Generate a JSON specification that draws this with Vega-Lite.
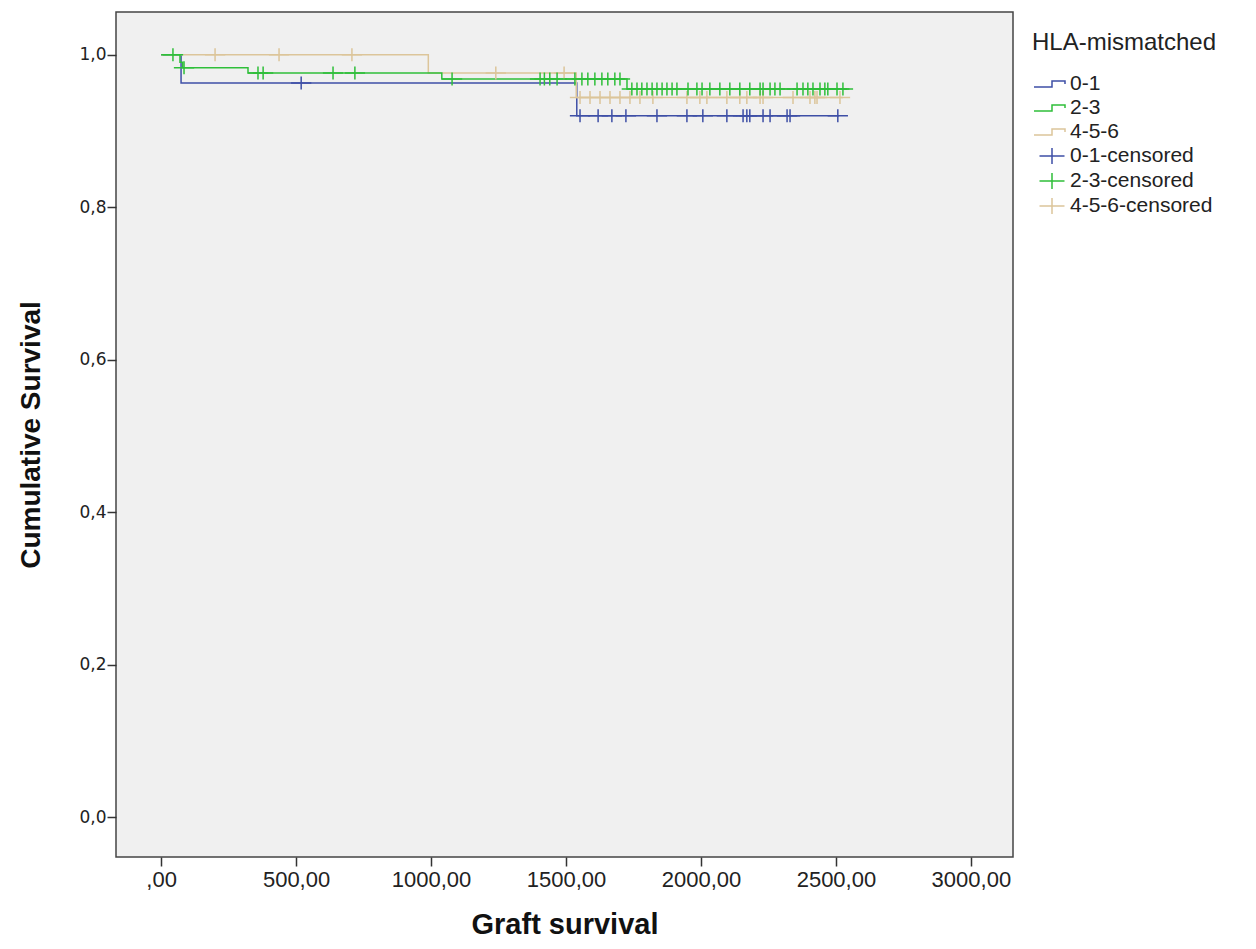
{
  "$schema": "https://vega.github.io/schema/vega-lite/v6.json",
  "width": 897,
  "height": 845,
  "autosize": {"type": "none"},
  "padding": {"left": 116, "top": 12, "right": 243, "bottom": 92},
  "background": "#ffffff",
  "config": {
    "view": {"fill": "#f0f0f0", "stroke": "#444444", "strokeWidth": 1.5},
    "font": "Liberation Sans",
    "axis": {
      "domain": false,
      "grid": false,
      "tickColor": "#333333",
      "tickWidth": 1.5,
      "tickSize": 9,
      "labelFont": "Liberation Sans",
      "labelColor": "#222222",
      "titleFont": "Liberation Sans",
      "titleFontWeight": "bold",
      "titleColor": "#111111"
    },
    "legend": {
      "titleFont": "Liberation Sans",
      "titleFontSize": 24,
      "titleFontWeight": "normal",
      "titleColor": "#222222",
      "titleLimit": 400,
      "labelFont": "Liberation Sans",
      "labelFontSize": 21,
      "labelColor": "#222222",
      "labelLimit": 400
    }
  },
  "datasets": {
    "curves": [
      {"t": 0, "s": 1.0, "grp": "0-1"},
      {"t": 74, "s": 0.963, "grp": "0-1"},
      {"t": 1540, "s": 0.92, "grp": "0-1"},
      {"t": 2512, "s": 0.92, "grp": "0-1"},
      {"t": 0, "s": 1.0, "grp": "4-5-6"},
      {"t": 990, "s": 0.976, "grp": "4-5-6"},
      {"t": 1538, "s": 0.944, "grp": "4-5-6"},
      {"t": 2526, "s": 0.944, "grp": "4-5-6"},
      {"t": 0, "s": 1.0, "grp": "2-3"},
      {"t": 70, "s": 0.99, "grp": "2-3"},
      {"t": 80, "s": 0.983, "grp": "2-3"},
      {"t": 322, "s": 0.976, "grp": "2-3"},
      {"t": 1040, "s": 0.968, "grp": "2-3"},
      {"t": 1726, "s": 0.955, "grp": "2-3"},
      {"t": 2550, "s": 0.955, "grp": "2-3"}
    ],
    "censored": [
      {"t": 519, "s": 0.963, "grp": "0-1-censored"},
      {"t": 1552, "s": 0.92, "grp": "0-1-censored"},
      {"t": 1619, "s": 0.92, "grp": "0-1-censored"},
      {"t": 1670, "s": 0.92, "grp": "0-1-censored"},
      {"t": 1722, "s": 0.92, "grp": "0-1-censored"},
      {"t": 1837, "s": 0.92, "grp": "0-1-censored"},
      {"t": 1948, "s": 0.92, "grp": "0-1-censored"},
      {"t": 2007, "s": 0.92, "grp": "0-1-censored"},
      {"t": 2096, "s": 0.92, "grp": "0-1-censored"},
      {"t": 2156, "s": 0.92, "grp": "0-1-censored"},
      {"t": 2170, "s": 0.92, "grp": "0-1-censored"},
      {"t": 2181, "s": 0.92, "grp": "0-1-censored"},
      {"t": 2230, "s": 0.92, "grp": "0-1-censored"},
      {"t": 2256, "s": 0.92, "grp": "0-1-censored"},
      {"t": 2319, "s": 0.92, "grp": "0-1-censored"},
      {"t": 2330, "s": 0.92, "grp": "0-1-censored"},
      {"t": 2507, "s": 0.92, "grp": "0-1-censored"},
      {"t": 200, "s": 1.0, "grp": "4-5-6-censored"},
      {"t": 437, "s": 1.0, "grp": "4-5-6-censored"},
      {"t": 707, "s": 1.0, "grp": "4-5-6-censored"},
      {"t": 1240, "s": 0.976, "grp": "4-5-6-censored"},
      {"t": 1493, "s": 0.976, "grp": "4-5-6-censored"},
      {"t": 1552, "s": 0.944, "grp": "4-5-6-censored"},
      {"t": 1589, "s": 0.944, "grp": "4-5-6-censored"},
      {"t": 1626, "s": 0.944, "grp": "4-5-6-censored"},
      {"t": 1663, "s": 0.944, "grp": "4-5-6-censored"},
      {"t": 1700, "s": 0.944, "grp": "4-5-6-censored"},
      {"t": 1737, "s": 0.944, "grp": "4-5-6-censored"},
      {"t": 1774, "s": 0.944, "grp": "4-5-6-censored"},
      {"t": 1822, "s": 0.944, "grp": "4-5-6-censored"},
      {"t": 1948, "s": 0.944, "grp": "4-5-6-censored"},
      {"t": 1996, "s": 0.944, "grp": "4-5-6-censored"},
      {"t": 2022, "s": 0.944, "grp": "4-5-6-censored"},
      {"t": 2096, "s": 0.944, "grp": "4-5-6-censored"},
      {"t": 2144, "s": 0.944, "grp": "4-5-6-censored"},
      {"t": 2170, "s": 0.944, "grp": "4-5-6-censored"},
      {"t": 2219, "s": 0.944, "grp": "4-5-6-censored"},
      {"t": 2230, "s": 0.944, "grp": "4-5-6-censored"},
      {"t": 2341, "s": 0.944, "grp": "4-5-6-censored"},
      {"t": 2404, "s": 0.944, "grp": "4-5-6-censored"},
      {"t": 2422, "s": 0.944, "grp": "4-5-6-censored"},
      {"t": 2430, "s": 0.944, "grp": "4-5-6-censored"},
      {"t": 2515, "s": 0.944, "grp": "4-5-6-censored"},
      {"t": 44, "s": 1.0, "grp": "2-3-censored"},
      {"t": 85, "s": 0.983, "grp": "2-3-censored"},
      {"t": 359, "s": 0.976, "grp": "2-3-censored"},
      {"t": 378, "s": 0.976, "grp": "2-3-censored"},
      {"t": 637, "s": 0.976, "grp": "2-3-censored"},
      {"t": 718, "s": 0.976, "grp": "2-3-censored"},
      {"t": 1078, "s": 0.968, "grp": "2-3-censored"},
      {"t": 1404, "s": 0.968, "grp": "2-3-censored"},
      {"t": 1420, "s": 0.968, "grp": "2-3-censored"},
      {"t": 1440, "s": 0.968, "grp": "2-3-censored"},
      {"t": 1467, "s": 0.968, "grp": "2-3-censored"},
      {"t": 1533, "s": 0.968, "grp": "2-3-censored"},
      {"t": 1559, "s": 0.968, "grp": "2-3-censored"},
      {"t": 1581, "s": 0.968, "grp": "2-3-censored"},
      {"t": 1607, "s": 0.968, "grp": "2-3-censored"},
      {"t": 1633, "s": 0.968, "grp": "2-3-censored"},
      {"t": 1655, "s": 0.968, "grp": "2-3-censored"},
      {"t": 1681, "s": 0.968, "grp": "2-3-censored"},
      {"t": 1700, "s": 0.968, "grp": "2-3-censored"},
      {"t": 1744, "s": 0.955, "grp": "2-3-censored"},
      {"t": 1763, "s": 0.955, "grp": "2-3-censored"},
      {"t": 1781, "s": 0.955, "grp": "2-3-censored"},
      {"t": 1800, "s": 0.955, "grp": "2-3-censored"},
      {"t": 1819, "s": 0.955, "grp": "2-3-censored"},
      {"t": 1837, "s": 0.955, "grp": "2-3-censored"},
      {"t": 1856, "s": 0.955, "grp": "2-3-censored"},
      {"t": 1874, "s": 0.955, "grp": "2-3-censored"},
      {"t": 1893, "s": 0.955, "grp": "2-3-censored"},
      {"t": 1911, "s": 0.955, "grp": "2-3-censored"},
      {"t": 1952, "s": 0.955, "grp": "2-3-censored"},
      {"t": 1985, "s": 0.955, "grp": "2-3-censored"},
      {"t": 2004, "s": 0.955, "grp": "2-3-censored"},
      {"t": 2033, "s": 0.955, "grp": "2-3-censored"},
      {"t": 2070, "s": 0.955, "grp": "2-3-censored"},
      {"t": 2107, "s": 0.955, "grp": "2-3-censored"},
      {"t": 2144, "s": 0.955, "grp": "2-3-censored"},
      {"t": 2181, "s": 0.955, "grp": "2-3-censored"},
      {"t": 2219, "s": 0.955, "grp": "2-3-censored"},
      {"t": 2230, "s": 0.955, "grp": "2-3-censored"},
      {"t": 2256, "s": 0.955, "grp": "2-3-censored"},
      {"t": 2274, "s": 0.955, "grp": "2-3-censored"},
      {"t": 2293, "s": 0.955, "grp": "2-3-censored"},
      {"t": 2356, "s": 0.955, "grp": "2-3-censored"},
      {"t": 2378, "s": 0.955, "grp": "2-3-censored"},
      {"t": 2396, "s": 0.955, "grp": "2-3-censored"},
      {"t": 2415, "s": 0.955, "grp": "2-3-censored"},
      {"t": 2441, "s": 0.955, "grp": "2-3-censored"},
      {"t": 2459, "s": 0.955, "grp": "2-3-censored"},
      {"t": 2470, "s": 0.955, "grp": "2-3-censored"},
      {"t": 2504, "s": 0.955, "grp": "2-3-censored"},
      {"t": 2526, "s": 0.955, "grp": "2-3-censored"}
    ]
  },
  "encoding": {
    "x": {
      "field": "t",
      "type": "quantitative",
      "scale": {"domain": [-167, 3156], "nice": false, "zero": false},
      "axis": {
        "values": [0, 500, 1000, 1500, 2000, 2500, 3000],
        "labelExpr": "datum.value == 0 ? ',00' : datum.value + ',00'",
        "labelFontSize": 22,
        "labelPadding": 3,
        "title": "Graft survival",
        "titlePadding": 20,
        "titleFontSize": 29
      }
    },
    "y": {
      "field": "s",
      "type": "quantitative",
      "scale": {"domain": [-0.052, 1.056], "nice": false, "zero": false},
      "axis": {
        "values": [0, 0.2, 0.4, 0.6, 0.8, 1.0],
        "labelExpr": "replace(format(datum.value, '.1f'), '.', ',')",
        "labelFont": "DejaVu Sans",
        "labelFontSize": 17,
        "labelPadding": 1,
        "title": "Cumulative Survival",
        "titleFontSize": 28,
        "titlePadding": 33
      }
    },
    "color": {
      "field": "grp",
      "type": "nominal",
      "scale": {
        "domain": ["0-1", "2-3", "4-5-6", "0-1-censored", "2-3-censored", "4-5-6-censored"],
        "range": ["#3e4fa6", "#2fbf3a", "#dcc59a", "#3e4fa6", "#2fbf3a", "#dcc59a"]
      },
      "legend": {
        "title": "HLA-mismatched",
        "orient": "none",
        "legendX": 916,
        "legendY": 19,
        "titlePadding": 18,
        "symbolSize": 400,
        "symbolOffset": 9,
        "symbolStrokeWidth": 1.5,
        "symbolFillColor": "transparent",
        "labelOffset": 7,
        "rowPadding": 3
      }
    }
  },
  "layer": [
    {
      "data": {"name": "curves"},
      "mark": {"type": "line", "interpolate": "step-after", "strokeWidth": 1.5}
    },
    {
      "data": {"name": "censored"},
      "mark": {"type": "point", "filled": false, "strokeWidth": 1.5, "size": 264, "opacity": 1},
      "encoding": {
        "shape": {
          "field": "grp",
          "type": "nominal",
          "scale": {
            "domain": ["0-1", "2-3", "4-5-6", "0-1-censored", "2-3-censored", "4-5-6-censored"],
            "range": [
              "M-1.8,0.3L0,0.3L0,-0.3L1.3,-0.3L1.3,0",
              "M-1.8,0.3L0,0.3L0,-0.3L1.3,-0.3L1.3,0",
              "M-1.8,0.3L0,0.3L0,-0.3L1.3,-0.3L1.3,0",
              "M-1.25,0L1.25,0M0,-0.8L0,0.8",
              "M-1.25,0L1.25,0M0,-0.8L0,0.8",
              "M-1.25,0L1.25,0M0,-0.8L0,0.8"
            ]
          },
          "legend": {
            "title": "HLA-mismatched",
            "orient": "none",
            "legendX": 916,
            "legendY": 19,
            "titlePadding": 18,
            "symbolSize": 400,
            "symbolOffset": 9,
            "symbolStrokeWidth": 1.5,
            "symbolFillColor": "transparent",
            "labelOffset": 7,
            "rowPadding": 3
          }
        }
      }
    }
  ]
}
